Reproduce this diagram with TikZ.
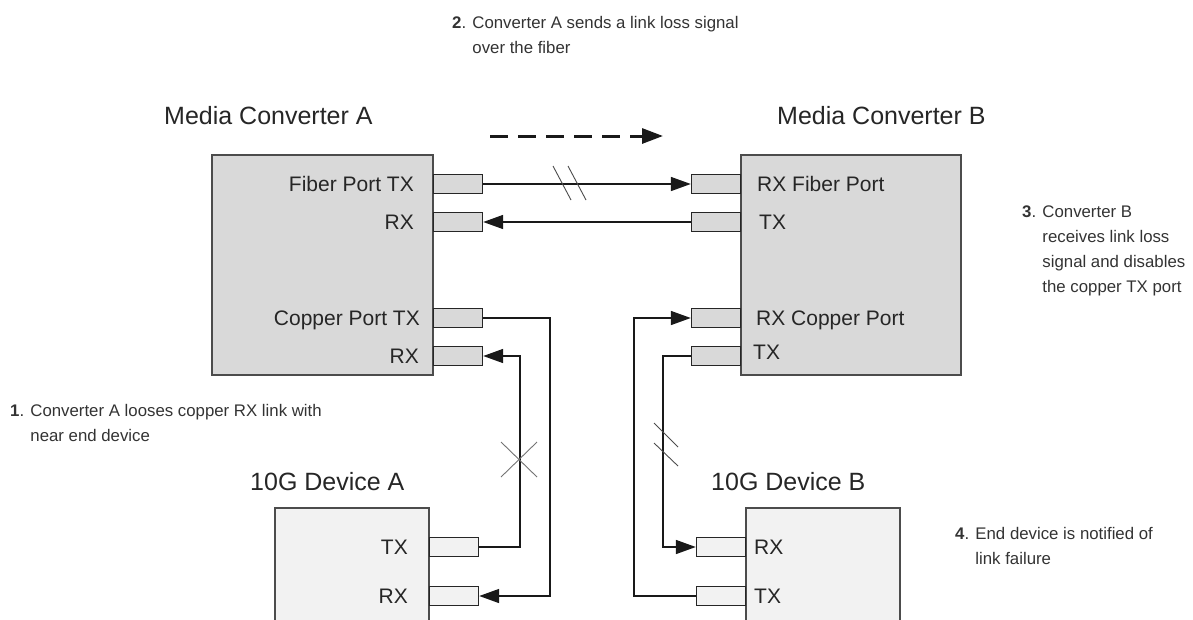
\documentclass[tikz,border=0pt]{standalone}
\usepackage{fontspec}
\setmainfont{Liberation Sans}
\usetikzlibrary{arrows.meta,positioning}

\newcommand{\titlefont}{\fontsize{25}{30}\selectfont}
\newcommand{\portfont}{\fontsize{21}{25}\selectfont}
\newcommand{\notefont}{\fontsize{16.8}{25}\selectfont}

\begin{document}
\begin{tikzpicture}[
    x=1pt, y=-1pt,
    >={Triangle[length=20pt,width=14pt]},
    % 方塊與接口樣式
    convbox/.style={draw=black!70, fill=gray!30, line width=1.6pt, inner sep=0pt},
    devbox/.style={draw=black!70, fill=gray!10, line width=1.6pt, inner sep=0pt},
    port/.style={draw=black!85, fill=gray!30, line width=1.2pt, minimum width=49pt, minimum height=19pt, inner sep=0pt},
    devport/.style={port, fill=gray!10},
    portlabel/.style={font=\portfont, text=black!85, inner sep=0pt, text height=15pt, text depth=0pt},
    title/.style={font=\titlefont, text=black!85, inner sep=0pt, anchor=base west},
    note/.style={font=\notefont, text=black!80, inner sep=0pt, align=left, anchor=north west},
    link/.style={->, line width=1.6pt, black!90},
    hash/.style={line width=0.9pt, black!70},
]
    \useasboundingbox (0,0) rectangle (1193,619);

    % --- 定義座標參數 ---
    \def\xAr{433}   % Converter A 右緣
    \def\xBl{741}   % Converter B 左緣
    \def\xDAr{429}  % Device A 右緣
    \def\xDBl{746}  % Device B 左緣

    % Y 軸高度定義 (從上到下)
    \def\yFib{184}    % Fiber TX/RX
    \def\yFibR{222}
    \def\yCop{318}    % Copper
    \def\yCopR{356}
    \def\yDevT{547}   % 10G Device 接口
    \def\yDevR{596}

    % --- 1. 兩個 Media Converter ---
    \node[convbox, minimum width=221pt, minimum height=220pt] (convA) at (322.5,265) {};
    \node[convbox, minimum width=220pt, minimum height=220pt] (convB) at (851,265) {};

    \node[title] (titleA) at (164,124) {Media Converter A};
    \node[title] (titleB) at (777,124) {Media Converter B};

    % Converter A 接口 (右側)
    \node[port, anchor=west] (aFTX) at (\xAr,\yFib) {};
    \node[port, anchor=west] (aFRX) at (\xAr,\yFibR) {};
    \node[port, anchor=west] (aCTX) at (\xAr,\yCop) {};
    \node[port, anchor=west] (aCRX) at (\xAr,\yCopR) {};

    \node[portlabel, left=19pt of aFTX.west] (lblAFTX) {Fiber Port TX};
    \node[portlabel, left=19pt of aFRX.west] (lblAFRX) {RX};
    \node[portlabel, left=13pt of aCTX.west] (lblACTX) {Copper Port TX};
    \node[portlabel, left=14pt of aCRX.west] (lblACRX) {RX};

    % Converter B 接口 (左側)
    \node[port, anchor=east] (bFRX) at (\xBl,\yFib) {};
    \node[port, anchor=east] (bFTX) at (\xBl,\yFibR) {};
    \node[port, anchor=east] (bCRX) at (\xBl,\yCop) {};
    \node[port, anchor=east] (bCTX) at (\xBl,\yCopR) {};

    \node[portlabel, right=16pt of bFRX.east] (lblBFRX) {RX Fiber Port};
    \node[portlabel, right=18pt of bFTX.east] (lblBFTX) {TX};
    \node[portlabel, right=15pt of bCRX.east] (lblBCRX) {RX Copper Port};
    \node[portlabel, right=12pt of bCTX.east, yshift=4pt] (lblBCTX) {TX};

    % --- 2. 兩個 10G Device (下方, 超出邊界) ---
    \node[devbox, minimum width=154pt, minimum height=140pt] (devA) at (352,578) {};
    \node[devbox, minimum width=154pt, minimum height=140pt] (devB) at (823,578) {};

    \node[title] (titleDA) at (250,490) {10G Device A};
    \node[title] (titleDB) at (711,490) {10G Device B};

    \node[devport, anchor=west] (dATX) at (\xDAr,\yDevT) {};
    \node[devport, anchor=west] (dARX) at (\xDAr,\yDevR) {};
    \node[devport, anchor=east] (dBRX) at (\xDBl,\yDevT) {};
    \node[devport, anchor=east] (dBTX) at (\xDBl,\yDevR) {};

    \node[portlabel, left=21pt of dATX.west] (lblDATX) {TX};
    \node[portlabel, left=21pt of dARX.west] (lblDARX) {RX};
    \node[portlabel, right=8pt of dBRX.east] (lblDBRX) {RX};
    \node[portlabel, right=8pt of dBTX.east] (lblDBTX) {TX};

    % --- 3. 光纖連線 ---
    \draw[link] (aFTX.east) -- (bFRX.west);
    \draw[link] (bFTX.west) -- (aFRX.east);

    % 斷線記號 (//)
    \draw[hash] (553,166) -- (571,200);
    \draw[hash] (568,166) -- (586,200);

    % link loss 虛線箭頭
    \coordinate (sigStart) at (490,136);
    \coordinate (sigEnd) at (663,136);
    \draw[line width=3pt, black!90, dash pattern=on 18pt off 10pt,
          -{Triangle[length=21pt,width=15pt]}] (sigStart) -- (sigEnd);

    % --- 4. 銅線連線 ---
    \draw[link] (aCTX.east) -- ++(67,0) |- (dARX.east);
    \draw[link] (dATX.east) -- ++(41,0) |- (aCRX.east);
    \draw[link] (bCTX.west) -- ++(-28,0) |- (dBRX.west);
    \draw[link] (dBTX.west) -- ++(-62,0) |- (bCRX.west);

    % 斷線記號 (X 與 //)
    \draw[hash, black!55] (501,442) -- (537,477);
    \draw[hash, black!55] (537,442) -- (501,477);
    \draw[hash] (654,423) -- (678,447);
    \draw[hash] (654,443) -- (678,466);

    % --- 5. 步驟說明文字 ---
    \node[note] (note1) at (10,403.7) {\textbf{1}. Converter A looses copper RX link with\\
        \hphantom{\textbf{1}. }near end device};
    \node[note] (note2) at (452,15.7) {\textbf{2}. Converter A sends a link loss signal\\
        \hphantom{\textbf{2}. }over the fiber};
    \node[note] (note3) at (1022,205.7) {\textbf{3}. Converter B\\
        \hphantom{\textbf{3}. }receives link loss\\
        \hphantom{\textbf{3}. }signal and disables\\
        \hphantom{\textbf{3}. }the copper TX port};
    \node[note] (note4) at (955,527) {\textbf{4}. End device is notified of\\
        \hphantom{\textbf{4}. }link failure};

\end{tikzpicture}
\end{document}
